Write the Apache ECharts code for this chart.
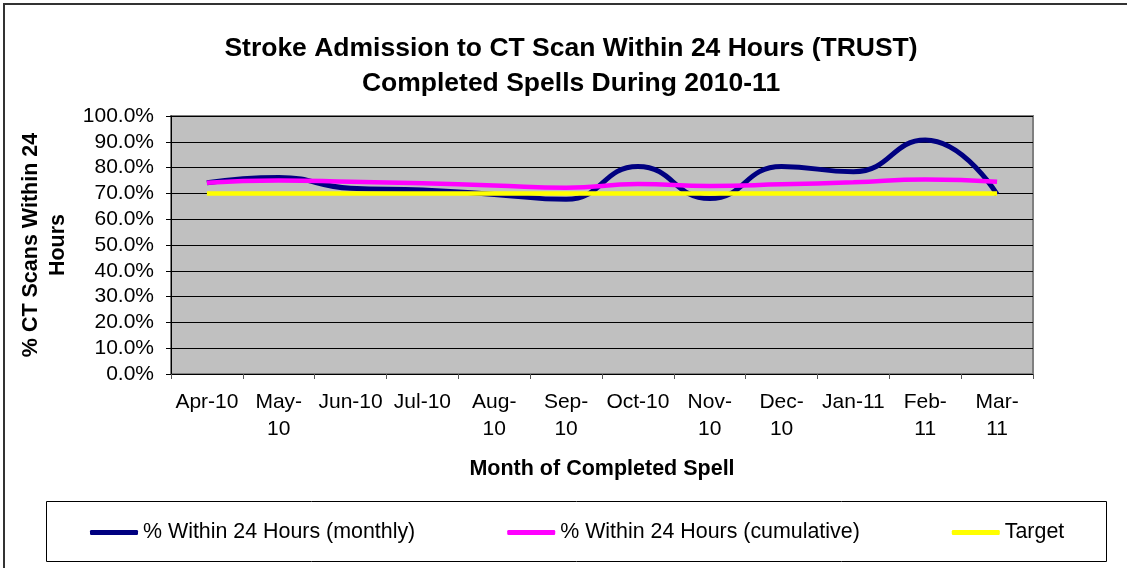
<!DOCTYPE html>
<html>
<head>
<meta charset="utf-8">
<script src="https://cdn.jsdelivr.net/npm/echarts@6/dist/echarts.min.js"></script>
<style>
  html, body { margin: 0; padding: 0; background: #fff; }
  #chart { width: 1127px; height: 568px; }
</style>
</head>
<body>
<div id="chart"></div>
<script>
// 数据
const months = ['Apr-10', 'May-10', 'Jun-10', 'Jul-10', 'Aug-10', 'Sep-10', 'Oct-10', 'Nov-10', 'Dec-10', 'Jan-11', 'Feb-11', 'Mar-11']
const monthLabels = ['Apr-10', 'May-\n10', 'Jun-10', 'Jul-10', 'Aug-\n10', 'Sep-\n10', 'Oct-10', 'Nov-\n10', 'Dec-\n10', 'Jan-11', 'Feb-\n11', 'Mar-\n11']
const monthly = [74.1, 76.2, 72.0, 71.3, 69.6, 67.7, 80.4, 68.0, 80.4, 78.4, 90.7, 69.6]
const cumulative = [74.1, 75.0, 74.5, 73.9, 73.1, 72.2, 73.6, 72.9, 73.5, 74.3, 75.4, 74.5]
const target = [70, 70, 70, 70, 70, 70, 70, 70, 70, 70, 70, 70]
const seriesNames = ['% Within 24 Hours (monthly)', '% Within 24 Hours (cumulative)', 'Target']
const seriesColors = ['#000080', '#ff00ff', '#ffff00']

const font = 'Arial, "Liberation Sans", sans-serif'

const chart = echarts.init(document.getElementById('chart'))

const option = {
  backgroundColor: '#fff',
  animation: false,
  color: seriesColors,
  graphic: [
    { // 外框
      type: 'rect',
      shape: { x: 4, y: 4, width: 1200, height: 700 },
      style: { fill: 'none', stroke: '#333', lineWidth: 2 },
      silent: true
    },
    { // 标题
      type: 'text',
      x: 571,
      y: 31,
      style: {
        text: 'Stroke Admission to CT Scan Within 24 Hours (TRUST)\nCompleted Spells During 2010-11',
        align: 'center',
        verticalAlign: 'top',
        fontFamily: font,
        fontSize: 26.5,
        fontWeight: 'bold',
        lineHeight: 35,
        fill: '#000'
      },
      silent: true
    },
    { // 图例框
      type: 'rect',
      shape: { x: 46.5, y: 501.5, width: 1060, height: 60 },
      style: { fill: '#fff', stroke: '#000', lineWidth: 1 },
      z: -1,
      silent: true
    }
  ],
  legend: {
    left: 90,
    top: 522,
    padding: 0,
    itemGap: 92,
    itemWidth: 48,
    itemHeight: 5,
    icon: 'roundRect',
    data: seriesNames,
    textStyle: {
      fontFamily: font,
      fontSize: 21.4,
      color: '#000'
    }
  },
  grid: {
    left: 171,
    right: 94,
    top: 116,
    bottom: 194,
    show: true,
    backgroundColor: '#c0c0c0',
    borderColor: '#808080',
    borderWidth: 2
  },
  xAxis: {
    type: 'category',
    data: months,
    boundaryGap: true,
    name: 'Month of Completed Spell',
    nameLocation: 'middle',
    nameGap: 84,
    nameTextStyle: {
      fontFamily: font,
      fontSize: 21.5,
      fontWeight: 'bold',
      color: '#000'
    },
    axisLine: { lineStyle: { color: '#000', width: 1 } },
    axisTick: { show: true, length: 5, lineStyle: { color: '#555' } },
    axisLabel: {
      interval: 0,
      margin: 15,
      fontFamily: font,
      fontSize: 21,
      lineHeight: 27,
      color: '#000',
      formatter: (val, idx) => monthLabels[idx]
    },
    splitLine: { show: false }
  },
  yAxis: {
    type: 'value',
    min: 0,
    max: 100,
    interval: 10,
    name: '% CT Scans Within 24\nHours',
    nameLocation: 'middle',
    nameGap: 91,
    nameTextStyle: {
      fontFamily: font,
      fontSize: 21.5,
      fontWeight: 'bold',
      color: '#000',
      lineHeight: 27
    },
    axisLine: { show: true, lineStyle: { color: '#000', width: 1 } },
    axisTick: { show: true, length: 5, lineStyle: { color: '#000' } },
    axisLabel: {
      margin: 17,
      fontFamily: font,
      fontSize: 21,
      color: '#000',
      formatter: v => v.toFixed(1) + '%'
    },
    splitLine: { show: true, lineStyle: { color: '#000', width: 1 } }
  },
  series: [
    {
      name: seriesNames[0],
      type: 'line',
      data: monthly,
      smooth: true,
      symbol: 'none',
      lineStyle: { color: seriesColors[0], width: 5 }
    },
    {
      name: seriesNames[1],
      type: 'line',
      data: cumulative,
      smooth: true,
      symbol: 'none',
      lineStyle: { color: seriesColors[1], width: 4.5 }
    },
    {
      name: seriesNames[2],
      type: 'line',
      data: target,
      smooth: true,
      symbol: 'none',
      lineStyle: { color: seriesColors[2], width: 4.5 }
    }
  ]
}

chart.setOption(option)
</script>
</body>
</html>
